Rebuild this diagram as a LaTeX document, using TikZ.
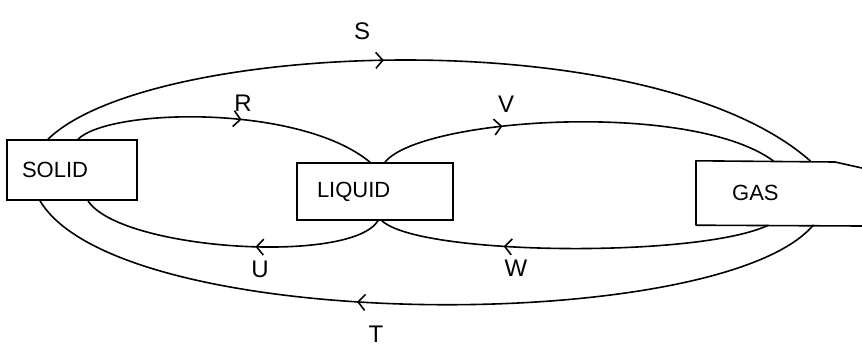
\documentclass[tikz,border=0pt]{standalone}
\usepackage{fontspec}
\setmainfont{Liberation Sans}
\usetikzlibrary{arrows.meta,decorations.markings}
\begin{document}
\begin{tikzpicture}[x=1pt,y=-1pt,
  ln/.style={line width=1.6pt, line cap=round, line join=round},
  statebox/.style={draw, line width=1.6pt, inner ysep=0pt, align=left, font=\fontsize{22}{26}\selectfont},
  lbl/.style={font=\fontsize{24}{28}\selectfont, inner sep=0pt},
  midarrow/.style={postaction={decorate},
    decoration={markings, mark=at position #1 with {\arrow[line width=1.6pt]{Straight Barb[length=7pt,width=16pt]}}}}
]
\useasboundingbox (0,0) rectangle (862,354);
% boxes
\node[statebox, inner xsep=15pt, text width=100pt, minimum height=60pt] (solid) at (72,170) {SOLID};
\node[statebox, inner xsep=20pt, text width=116pt, minimum height=57pt] (liquid) at (375,191.5) {LIQUID};
\node[font=\fontsize{22}{26}\selectfont, anchor=west, minimum height=64pt, text width=130pt, inner xsep=36pt, inner ysep=0pt, align=left] (gas) at (696,193) {GAS};
\coordinate (edgeT) at (862,168);
\coordinate (bendT) at (835,162);
\coordinate (edgeB) at (862,226);
\draw[ln] (edgeT) -- (bendT) -- (gas.north west) -- (gas.south west) -- (edgeB);
% connectors
\draw[ln, midarrow=0.44] ([xshift=-24pt]solid.north) .. controls (150,40) and (650,20) .. ([xshift=13pt]gas.north);
\draw[ln, midarrow=0.55] ([xshift=6pt]solid.north) .. controls (110,108) and (300,104) .. ([xshift=-5pt]liquid.north);
\draw[ln, midarrow=0.31] ([xshift=10pt]liquid.north) .. controls (420,118) and (690,100) .. ([xshift=-24pt]gas.north);
\draw[ln, midarrow=0.42] ([xshift=3pt]liquid.south) .. controls (350,265) and (120,250) .. ([xshift=16pt]solid.south);
\draw[ln, midarrow=0.68] ([xshift=-29pt]gas.south) .. controls (700,258) and (420,256) .. ([xshift=7pt]liquid.south);
\draw[ln, midarrow=0.58] ([xshift=16pt]gas.south) .. controls (720,335) and (120,335) .. ([xshift=-32pt]solid.south);
% labels
\node[lbl] (lS) at (362,31) {S};
\node[lbl] (lR) at (243,103) {R};
\node[lbl] (lV) at (506,104) {V};
\node[lbl] (lU) at (260,269) {U};
\node[lbl] (lW) at (516,268) {W};
\node[lbl] (lT) at (376,334) {T};
\end{tikzpicture}
\end{document}
